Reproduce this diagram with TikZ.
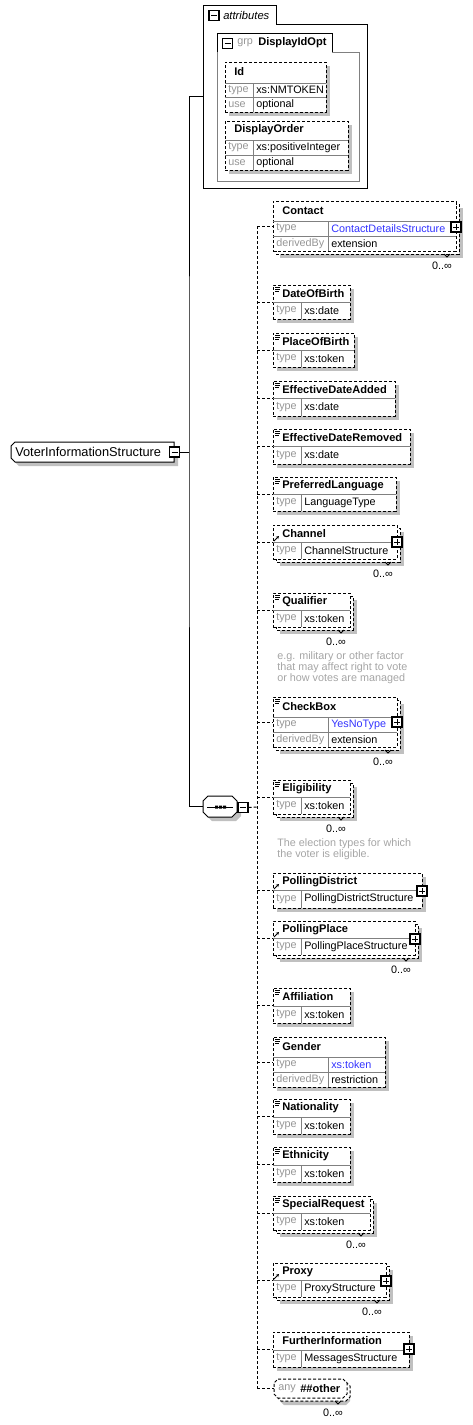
\documentclass[tikz,border=0pt]{standalone}
\usepackage{fontspec}
\setmainfont{Liberation Sans}
\usetikzlibrary{fit,arrows.meta}

\definecolor{keygray}{RGB}{150,150,150}
\definecolor{notegray}{RGB}{165,165,165}
\definecolor{linkblue}{RGB}{51,51,255}
\definecolor{shadowgray}{RGB}{192,192,192}
\definecolor{rowgray}{RGB}{128,128,128}

\newcommand\xsfont{\fontsize{8.1}{9.6}\selectfont}
\newcommand\xsbold{\fontsize{8.3}{9.6}\selectfont\bfseries}

\tikzset{
  plain/.style={anchor=west,inner sep=0pt,font=\xsfont},
  headtxt/.style={plain,font=\xsbold},
  keytxt/.style={plain,text=keygray},
  valtxt/.style={plain},
  reftype/.style={text=linkblue},
  notetxt/.style={plain,text=notegray,align=left,font=\fontsize{8.1}{8.25}\selectfont},
  multtxt/.style={inner sep=0pt,font=\xsfont},
  elem/.style={draw,dash pattern=on 2.25pt off 1.5pt,fill=white,inner sep=0pt,outer sep=0pt,line width=0.75pt},
  fitbox/.style={inner sep=0pt,outer sep=0pt},
  shadowc/.style={fill=shadowgray},
  rowline/.style={draw=rowgray,line width=0.75pt},
  solidline/.style={draw,line width=0.75pt},
  conn/.style={draw,line width=0.75pt},
  dconn/.style={conn,dash pattern=on 2.25pt off 1.5pt},
  expbox/.style={draw,fill=white,minimum size=7.5pt,inner sep=0pt,line width=0.9pt},
  sign/.style={line width=0.75pt},
  icon/.style={line width=0.6pt},
}

% element box: name, x1, y1, x2, y2
\newcommand\Elem[5]{%
  \fill[shadowc] (#2+4,#3+4) rectangle (#4+4,#5+4);
  \node[elem,fit={(#2,#3) (#4,#5)}] (#1) {};}
% element box with 0..oo (stacked copy behind)
\newcommand\ElemM[5]{%
  \fill[shadowc] (#2+7,#3+7) rectangle (#4+7,#5+7);
  \draw[elem] (#2+3,#3+3) rectangle (#4+3,#5+3);
  \node[elem,fit={(#2,#3) (#4,#5)}] (#1) {};}
\newcommand\Head[4]{\node[headtxt] (#1-h) at (#2,#3) {#4};}
% row: name, x1, x2, ytop, ybot, sep, key, value, value style
\newcommand\Row[9]{%
  \draw[rowline] (#2,#4) -- (#3,#4) (#6,#4) -- (#6,#5);
  \node[keytxt] (#1-k) at (#2+3,{(#4+#5)/2}) {#7};
  \node[valtxt,#9] (#1-v) at (#6+3,{(#4+#5)/2}) {#8};}
\newcommand\SimpleIcon[2]{\draw[icon] (#1+2,#2+2) -- ++(5,0) (#1+2,#2+4) -- ++(5,0) (#1+2,#2+6) -- ++(4,0);}
\newcommand\RefIcon[2]{\draw[icon,-{Stealth[length=2.2pt,width=2.4pt]}] (#1+1,#2+16) -- (#1+6,#2+11);}
\newcommand\Plus[3]{\node[expbox] (#1) at (#2,#3) {};
  \draw[sign] (#1.center) +(-3,0) -- +(3,0) +(0,-3) -- +(0,3);}
\newcommand\Minus[3]{\node[expbox] (#1) at (#2,#3) {};
  \draw[sign] (#1.center) +(-3,0) -- +(3,0);}
% multiplicity: name, x2, y2 of front box
\newcommand\Mult[3]{%
  \draw[icon] (#2-12,#3+3) -- (#2-9,#3+6) -- (#2-6,#3+3);
  \node[multtxt] (#1) at (#2-14,#3+15) {0..∞};}

\begin{document}
\begin{tikzpicture}[x=0.75pt,y=-0.75pt]
\useasboundingbox (0,0) rectangle (473,1425);
%Root
\fill[shadowc] (19,446) -- (178,446) -- (178,466) -- (19,466) -- (15,462) -- (15,450) -- cycle;
\draw[solidline,fill=white] (15,442) -- (174,442) -- (174,462) -- (15,462) -- (11,458) -- (11,446) -- cycle;
\node[fitbox,fit={(11,442) (174,462)}] (vis) {};
\node[plain,font=\fontsize{9.6}{11}\selectfont] (vis-t) at (15,452) {VoterInformationStructure};
\Minus{vis-m}{174.5}{452}
%Attributes
\draw[solidline] (203,5) -- (276,5) -- (276,24) -- (367,24) -- (367,188) -- (203,188) -- cycle;
\node[fitbox,fit={(203,5) (367,188)}] (attr) {};
\Minus{attr-m}{214}{15.5}
\node[plain,font=\fontsize{8.4}{9.6}\selectfont\itshape] (attr-t) at (223,15) {attributes};
\draw[rowline] (217,52) -- (217,181) -- (359,181) -- (359,52) -- (332,52);
\draw[solidline] (217,52) -- (217,33) -- (332,33) -- (332,52);
\Minus{grp-m}{227.5}{43.5}
\node[keytxt] (grp-k) at (237,43) {grp};
\node[headtxt] (grp-h) at (258,43) {DisplayIdOpt};
\Elem{id}{225}{62}{326}{112}
\Head{id}{234}{72}{Id}
\Row{id-r1}{225}{326}{83}{97}{253}{type}{xs:NMTOKEN}{}
\Row{id-r2}{225}{326}{97}{112}{253}{use}{optional}{}
\Elem{dord}{225}{121}{348}{170}
\Head{dord}{234}{130}{DisplayOrder}
\Row{dord-r1}{225}{348}{140}{155}{253}{type}{xs:positiveInteger}{}
\Row{dord-r2}{225}{348}{155}{170}{253}{use}{optional}{}
%Sequence
\fill[shadowc] (212,800) -- (236,800) -- (241,805) -- (241,816) -- (236,821) -- (212,821) -- (207,816) -- (207,805) -- cycle;
\draw[solidline,fill=white] (208,796) -- (232,796) -- (237,801) -- (237,812) -- (232,817) -- (208,817) -- (203,812) -- (203,801) -- cycle;
\node[fitbox,fit={(203,796) (237,817)}] (seq) {};
\draw[solidline] (207,807) -- (233,807);
\fill (215,805.5) rectangle (218,808.5) (219,805.5) rectangle (222,808.5) (223,805.5) rectangle (226,808.5);
\Minus{seq-m}{243}{807.5}
%Children
\ElemM{contact}{273}{201}{456}{251}
\Head{contact}{282}{211}{Contact}
\Row{contact-r1}{273}{456}{221}{236}{328}{type}{ContactDetailsStructure}{reftype}
\Row{contact-r2}{273}{456}{236}{251}{328}{derivedBy}{extension}{}
\Plus{contact-x}{456}{227}
\Mult{contact-n}{456}{251}
\Elem{dob}{273}{285}{350}{319}
\SimpleIcon{273}{285}
\Head{dob}{282}{294}{DateOfBirth}
\Row{dob-r}{273}{350}{302}{319}{301}{type}{xs:date}{}
\Elem{pob}{273}{333}{354}{367}
\SimpleIcon{273}{333}
\Head{pob}{282}{342}{PlaceOfBirth}
\Row{pob-r}{273}{354}{350}{367}{301}{type}{xs:token}{}
\Elem{eda}{273}{381}{395}{416}
\SimpleIcon{273}{381}
\Head{eda}{282}{390}{EffectiveDateAdded}
\Row{eda-r}{273}{395}{398}{416}{301}{type}{xs:date}{}
\Elem{edr}{273}{429}{410}{464}
\SimpleIcon{273}{429}
\Head{edr}{282}{438}{EffectiveDateRemoved}
\Row{edr-r}{273}{410}{446}{464}{301}{type}{xs:date}{}
\Elem{plang}{273}{477}{396}{511}
\SimpleIcon{273}{477}
\Head{plang}{282}{486}{PreferredLanguage}
\Row{plang-r}{273}{396}{494}{511}{301}{type}{LanguageType}{}
\ElemM{channel}{273}{525}{397}{559}
\RefIcon{273}{525}
\Head{channel}{282}{534}{Channel}
\Row{channel-r}{273}{397}{542}{559}{301}{type}{ChannelStructure}{}
\Plus{channel-x}{397}{542}
\Mult{channel-n}{397}{559}
\ElemM{qual}{273}{593}{350}{627}
\SimpleIcon{273}{593}
\Head{qual}{282}{602}{Qualifier}
\Row{qual-r}{273}{350}{610}{627}{301}{type}{xs:token}{}
\Mult{qual-n}{350}{627}
\node[notetxt] (qual-note) at (277,668) {e.g. military or other factor\\that may affect right to vote\\or how votes are managed};
\ElemM{check}{273}{697}{397}{747}
\SimpleIcon{273}{697}
\Head{check}{282}{707}{CheckBox}
\Row{check-r1}{273}{397}{717}{732}{328}{type}{YesNoType}{reftype}
\Row{check-r2}{273}{397}{732}{747}{328}{derivedBy}{extension}{}
\Plus{check-x}{397}{722}
\Mult{check-n}{397}{747}
\ElemM{elig}{273}{780}{350}{814}
\SimpleIcon{273}{780}
\Head{elig}{282}{789}{Eligibility}
\Row{elig-r}{273}{350}{797}{814}{301}{type}{xs:token}{}
\Mult{elig-n}{350}{814}
\node[notetxt] (elig-note) at (277,849) {The election types for which\\the voter is eligible.};
\Elem{pdist}{273}{873}{422}{908}
\RefIcon{273}{873}
\Head{pdist}{282}{882}{PollingDistrict}
\Row{pdist-r}{273}{422}{890}{908}{301}{type}{PollingDistrictStructure}{}
\Plus{pdist-x}{422}{891}
\ElemM{pplace}{273}{921}{415}{955}
\RefIcon{273}{921}
\Head{pplace}{282}{930}{PollingPlace}
\Row{pplace-r}{273}{415}{938}{955}{301}{type}{PollingPlaceStructure}{}
\Plus{pplace-x}{415}{939}
\Mult{pplace-n}{415}{955}
\Elem{affil}{273}{988}{350}{1023}
\SimpleIcon{273}{988}
\Head{affil}{282}{997}{Affiliation}
\Row{affil-r}{273}{350}{1006}{1023}{301}{type}{xs:token}{}
\Elem{gender}{273}{1037}{385}{1087}
\SimpleIcon{273}{1037}
\Head{gender}{282}{1047}{Gender}
\Row{gender-r1}{273}{385}{1057}{1072}{328}{type}{xs:token}{reftype}
\Row{gender-r2}{273}{385}{1072}{1087}{328}{derivedBy}{restriction}{}
\Elem{nation}{273}{1099}{350}{1134}
\SimpleIcon{273}{1099}
\Head{nation}{282}{1108}{Nationality}
\Row{nation-r}{273}{350}{1117}{1134}{301}{type}{xs:token}{}
\Elem{ethn}{273}{1147}{350}{1182}
\SimpleIcon{273}{1147}
\Head{ethn}{282}{1156}{Ethnicity}
\Row{ethn-r}{273}{350}{1165}{1182}{301}{type}{xs:token}{}
\ElemM{sreq}{273}{1196}{370}{1230}
\SimpleIcon{273}{1196}
\Head{sreq}{282}{1205}{SpecialRequest}
\Row{sreq-r}{273}{370}{1213}{1230}{301}{type}{xs:token}{}
\Mult{sreq-n}{370}{1230}
\ElemM{proxy}{273}{1263}{386}{1297}
\RefIcon{273}{1263}
\Head{proxy}{282}{1272}{Proxy}
\Row{proxy-r}{273}{386}{1280}{1297}{301}{type}{ProxyStructure}{}
\Plus{proxy-x}{386}{1281}
\Mult{proxy-n}{386}{1297}
\Elem{finfo}{273}{1332}{409}{1367}
\Head{finfo}{282}{1341}{FurtherInformation}
\Row{finfo-r}{273}{409}{1350}{1367}{301}{type}{MessagesStructure}{}
\Plus{finfo-x}{409}{1349}
%Any
\fill[shadowc] (284,1386) -- (346,1386) -- (350,1390) -- (350,1401) -- (346,1405) -- (284,1405) -- (280,1401) -- (280,1390) -- cycle;
\draw[elem] (281,1382) -- (346,1382) -- (350,1386) -- (350,1397) -- (346,1401) -- (281,1401) -- (277,1397) -- (277,1386) -- cycle;
\draw[elem] (278,1379) -- (343,1379) -- (347,1383) -- (347,1394) -- (343,1398) -- (278,1398) -- (274,1394) -- (274,1383) -- cycle;
\node[fitbox,fit={(274,1379) (347,1398)}] (any) {};
\node[keytxt] (any-k) at (278,1389) {any};
\node[headtxt] (any-h) at (300,1389) {\#\#other};
\Mult{any-n}{347}{1398}
%Connections
\coordinate (trunk) at (189,452);
\draw[conn] (vis-m.east) -- (trunk);
\draw[conn] (attr.west) -| (trunk) |- (seq.west);
\coordinate (bus) at (257,807);
\draw[dconn] (seq-m.east) -- (bus);
\draw[dconn] (bus |- contact.west) -- (bus |- any.west);
\draw[dconn] (bus |- contact.west) -- (contact.west);
\draw[dconn] (bus |- dob.west) -- (dob.west);
\draw[dconn] (bus |- pob.west) -- (pob.west);
\draw[dconn] (bus |- eda.west) -- (eda.west);
\draw[dconn] (bus |- edr.west) -- (edr.west);
\draw[dconn] (bus |- plang.west) -- (plang.west);
\draw[dconn] (bus |- channel.west) -- (channel.west);
\draw[dconn] (bus |- qual.west) -- (qual.west);
\draw[dconn] (bus |- check.west) -- (check.west);
\draw[dconn] (bus |- elig.west) -- (elig.west);
\draw[dconn] (bus |- pdist.west) -- (pdist.west);
\draw[dconn] (bus |- pplace.west) -- (pplace.west);
\draw[dconn] (bus |- affil.west) -- (affil.west);
\draw[dconn] (bus |- gender.west) -- (gender.west);
\draw[dconn] (bus |- nation.west) -- (nation.west);
\draw[dconn] (bus |- ethn.west) -- (ethn.west);
\draw[dconn] (bus |- sreq.west) -- (sreq.west);
\draw[dconn] (bus |- proxy.west) -- (proxy.west);
\draw[dconn] (bus |- finfo.west) -- (finfo.west);
\draw[dconn] (bus |- any.west) -- (any.west);
\end{tikzpicture}
\end{document}
